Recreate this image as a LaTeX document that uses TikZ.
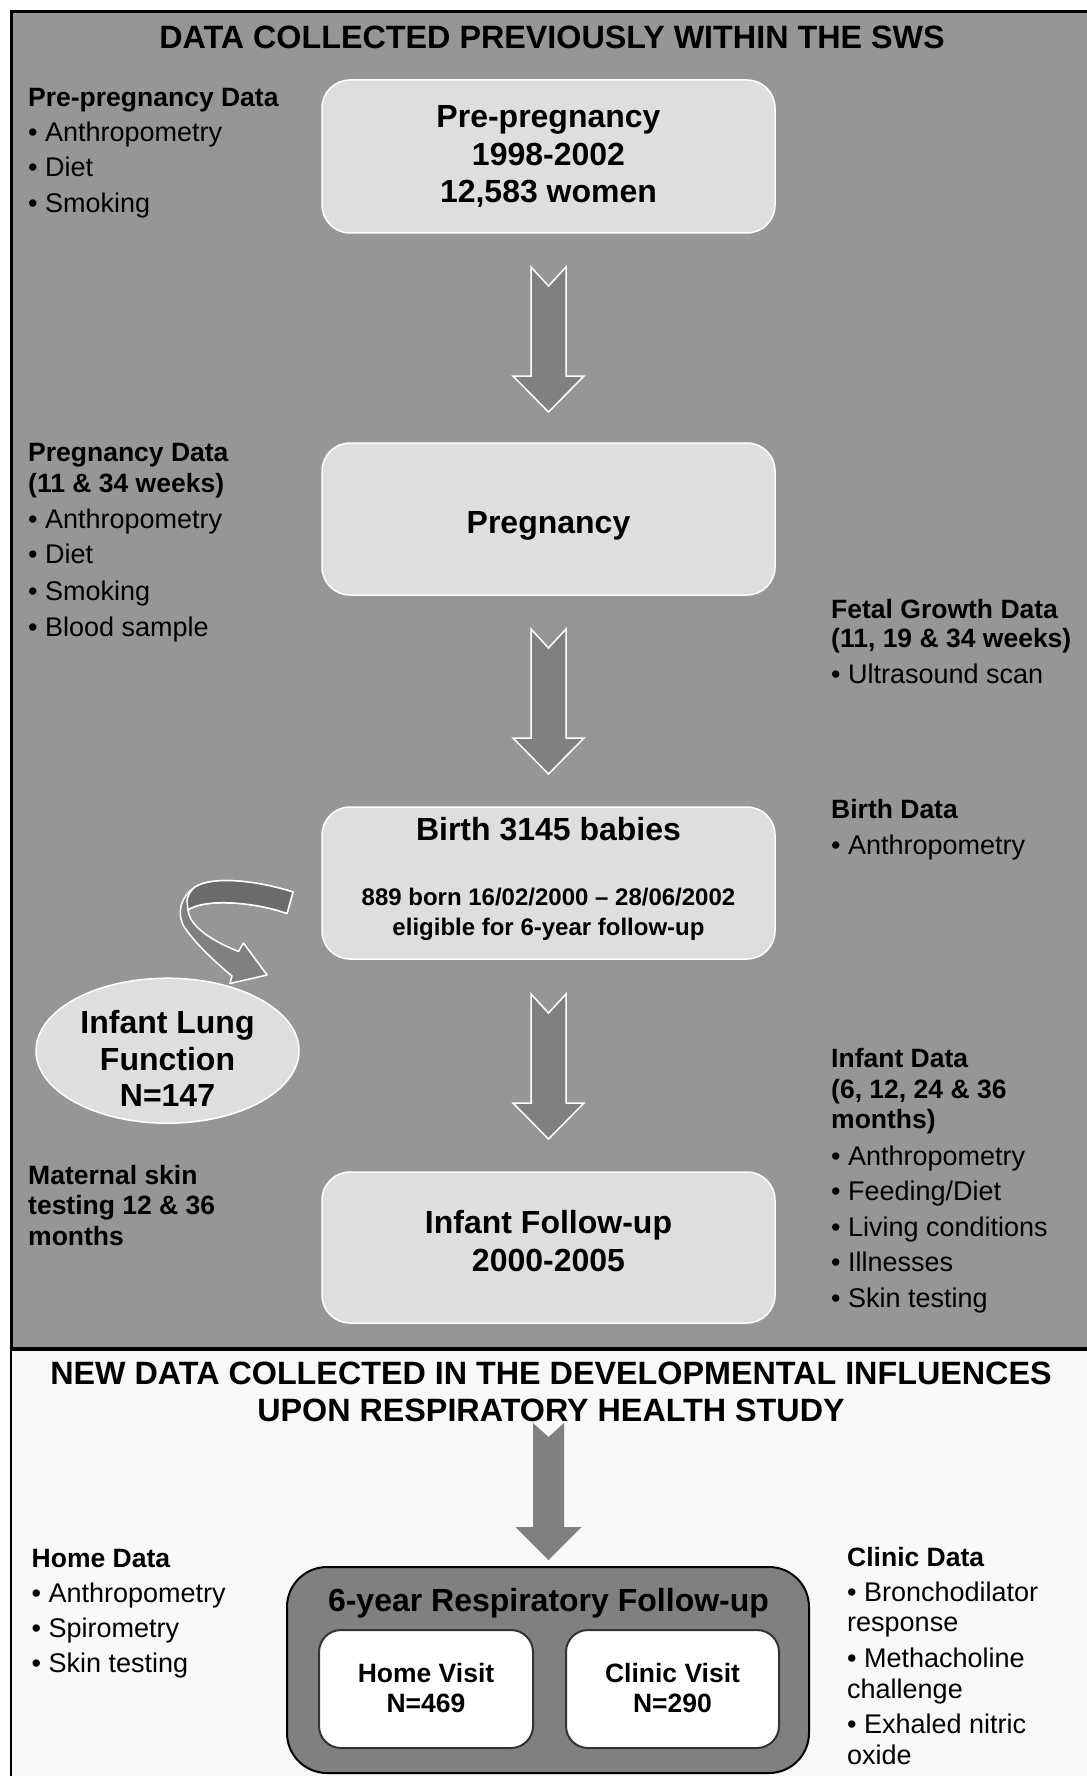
\documentclass[tikz,border=0pt]{standalone}
\usepackage{fontspec}
\setmainfont{Liberation Sans}
\usetikzlibrary{shapes.geometric}
\definecolor{panelgray}{HTML}{969696}
\definecolor{boxfill}{HTML}{DEDEDE}
\definecolor{arrowfill}{HTML}{808080}
\definecolor{taildark}{HTML}{6B6B6B}
\definecolor{lightbg}{HTML}{F8F8F8}
\definecolor{visitborder}{HTML}{333333}
\begin{document}
\begin{tikzpicture}[x=1pt,y=-1pt,
  sidehead/.style={anchor=base west, inner sep=0pt, font=\bfseries\fontsize{26.5}{30}\selectfont},
  sideitem/.style={anchor=base west, inner sep=0pt, font=\fontsize{27}{30}\selectfont},
  boxtext/.style={anchor=base, inner sep=0pt, font=\bfseries\fontsize{32}{36}\selectfont},
  smalltext/.style={anchor=base, inner sep=0pt, font=\bfseries\fontsize{24}{28}\selectfont},
  titletext/.style={anchor=base, inner sep=0pt, font=\bfseries\fontsize{32.3}{36}\selectfont},
  visittext/.style={anchor=base, inner sep=0pt, font=\bfseries\fontsize{26.5}{30}\selectfont},
  stagebox/.style={draw=white, line width=1.5pt, fill=boxfill, rounded corners=28pt, inner sep=0pt, minimum width=453pt},
  blockarrow/.style={draw=white, line width=1.5pt, fill=arrowfill, line join=miter},
  visitbox/.style={draw=visitborder, line width=2pt, fill=white, rounded corners=22pt, inner sep=0pt, minimum height=118pt}
]
\useasboundingbox (0,0) rectangle (1086,1776);
\fill[white] (0,0) rectangle (1086,1776);
% panels
\fill[panelgray] (11,12) rectangle (1092,1349);
\fill[lightbg] (11,1349) rectangle (1092,1780);
\draw[line width=3pt] (1092,12) -- (11,12) -- (11,1349);
\draw[line width=2pt] (11,1349) -- (11,1780);
\draw[line width=3.5pt] (9.5,1349) -- (1092,1349);

% title
\node[titletext] (title1) at (552,49) {DATA COLLECTED PREVIOUSLY WITHIN THE SWS};

% stage boxes
\node[stagebox, minimum height=153pt] (pre) at (548.5,156.5) {};
\node[boxtext] (pre1) at (548.5,128) {Pre-pregnancy};
\node[boxtext] (pre2) at (548.5,165.5) {1998-2002};
\node[boxtext] (pre3) at (548.5,203) {12,583 women};

\node[stagebox, minimum height=152pt] (preg) at (548.5,519) {};
\node[boxtext] (preg1) at (548.5,533.5) {Pregnancy};

\node[stagebox, minimum height=152pt] (birth) at (548.5,883) {};
\node[boxtext] (birth1) at (548.5,840.5) {Birth 3145 babies};
\node[smalltext] (birth2) at (548.5,905.6) {889 born 16/02/2000 – 28/06/2002};
\node[smalltext] (birth3) at (548.5,935) {eligible for 6-year follow-up};

\node[stagebox, minimum height=151pt] (inf) at (548.5,1247.5) {};
\node[boxtext] (inf1) at (548.5,1233.5) {Infant Follow-up};
\node[boxtext] (inf2) at (548.5,1271) {2000-2005};

% block arrows between stages
\foreach \ty in {267,629,994} {
  \draw[blockarrow] (531,\ty) -- (548.5,\ty+19) -- (566,\ty) -- (566,\ty+109)
    -- (584,\ty+109) -- (548.5,\ty+145) -- (513,\ty+109) -- (531,\ty+109) -- cycle;
}

% ellipse
\node[ellipse, draw=white, line width=1.5pt, fill=boxfill, minimum width=263pt, minimum height=145pt, inner sep=0pt] (ilf) at (167.5,1050.7) {};
\node[boxtext] (ilf1) at (167.5,1033) {Infant Lung};
\node[boxtext] (ilf2) at (167.5,1070) {Function};
\node[boxtext] (ilf3) at (167.5,1106.5) {N=147};

% curved arrow
\draw[blockarrow, line join=round]
  (293,892) .. controls (255,880) and (212,876) .. (195,887)
  .. controls (180,897) and (176,915) .. (185,928)
  .. controls (195,943) and (215,962) .. (232,976)
  -- (230,983.5) -- (267,975) -- (243.5,943) -- (238.5,951.5)
  .. controls (215,942) and (190,928) .. (188,910)
  .. controls (205,898) and (255,902) .. (287,913.5) -- cycle;
\draw[draw=white, line width=1.5pt, fill=taildark, line join=round]
  (293,892) .. controls (255,880) and (212,876) .. (195,887)
  .. controls (191,890) and (188,895) .. (187,900)
  -- (188,910)
  .. controls (205,898) and (255,902) .. (287,913.5) -- cycle;

% left column
\node[sidehead] (ppd) at (28,107) {Pre-pregnancy Data};
\node[sideitem] (ppd1) at (28,142) {• Anthropometry};
\node[sideitem] (ppd2) at (28,177) {• Diet};
\node[sideitem] (ppd3) at (28,213) {• Smoking};

\node[sidehead] (pd) at (28,461) {Pregnancy Data};
\node[sidehead] (pdb) at (28,492) {(11 \& 34 weeks)};
\node[sideitem] (pd1) at (28,528) {• Anthropometry};
\node[sideitem] (pd2) at (28,563) {• Diet};
\node[sideitem] (pd3) at (28,600) {• Smoking};
\node[sideitem] (pd4) at (28,636) {• Blood sample};

\node[sidehead] (msk1) at (28,1184) {Maternal skin};
\node[sidehead] (msk2) at (28,1214.5) {testing 12 \& 36};
\node[sidehead] (msk3) at (28,1245) {months};

% right column
\node[sidehead] (fgd) at (831,618) {Fetal Growth Data};
\node[sidehead] (fgdb) at (831,647) {(11, 19 \& 34 weeks)};
\node[sideitem] (fgd1) at (831,683) {• Ultrasound scan};

\node[sidehead] (bd) at (831,818) {Birth Data};
\node[sideitem] (bd1) at (831,854) {• Anthropometry};

\node[sidehead] (id) at (831,1067) {Infant Data};
\node[sidehead] (idb) at (831,1098) {(6, 12, 24 \& 36};
\node[sidehead] (idc) at (831,1128) {months)};
\node[sideitem] (id1) at (831,1165) {• Anthropometry};
\node[sideitem] (id2) at (831,1200) {• Feeding/Diet};
\node[sideitem] (id3) at (831,1236) {• Living conditions};
\node[sideitem] (id4) at (831,1271) {• Illnesses};
\node[sideitem] (id5) at (831,1307) {• Skin testing};

% bottom section
\node[titletext] (title2) at (551,1384) {NEW DATA COLLECTED IN THE DEVELOPMENTAL INFLUENCES};
\node[titletext] (title3) at (551,1421) {UPON RESPIRATORY HEALTH STUDY};

\fill[arrowfill] (533,1423) -- (548.5,1437) -- (564,1423) -- (564,1527)
  -- (581.5,1527) -- (548.5,1560) -- (515.5,1527) -- (533,1527) -- cycle;

\node[draw=black, line width=2pt, fill=arrowfill, rounded corners=40pt, minimum width=522pt, minimum height=206pt, inner sep=0pt] (six) at (548,1670) {};
\node[boxtext] (six1) at (548.5,1611) {6-year Respiratory Follow-up};
\node[visitbox, minimum width=214pt] (home) at (426,1689) {};
\node[visitbox, minimum width=213pt] (clinic) at (672.5,1689) {};
\node[visittext] (home1) at (426,1682) {Home Visit};
\node[visittext] (home2) at (426,1712) {N=469};
\node[visittext] (clin1) at (672.5,1682) {Clinic Visit};
\node[visittext] (clin2) at (672.5,1712) {N=290};

\node[sidehead] (hd) at (31.5,1567) {Home Data};
\node[sideitem] (hd1) at (31.5,1602) {• Anthropometry};
\node[sideitem] (hd2) at (31.5,1637) {• Spirometry};
\node[sideitem] (hd3) at (31.5,1672) {• Skin testing};

\node[sidehead] (cd) at (847,1566) {Clinic Data};
\node[sideitem] (cd1) at (847,1601) {• Bronchodilator};
\node[sideitem] (cd2) at (847,1631) {response};
\node[sideitem] (cd3) at (847,1667.5) {• Methacholine};
\node[sideitem] (cd4) at (847,1698) {challenge};
\node[sideitem] (cd5) at (847,1733) {• Exhaled nitric};
\node[sideitem] (cd6) at (847,1764) {oxide};
\end{tikzpicture}
\end{document}
